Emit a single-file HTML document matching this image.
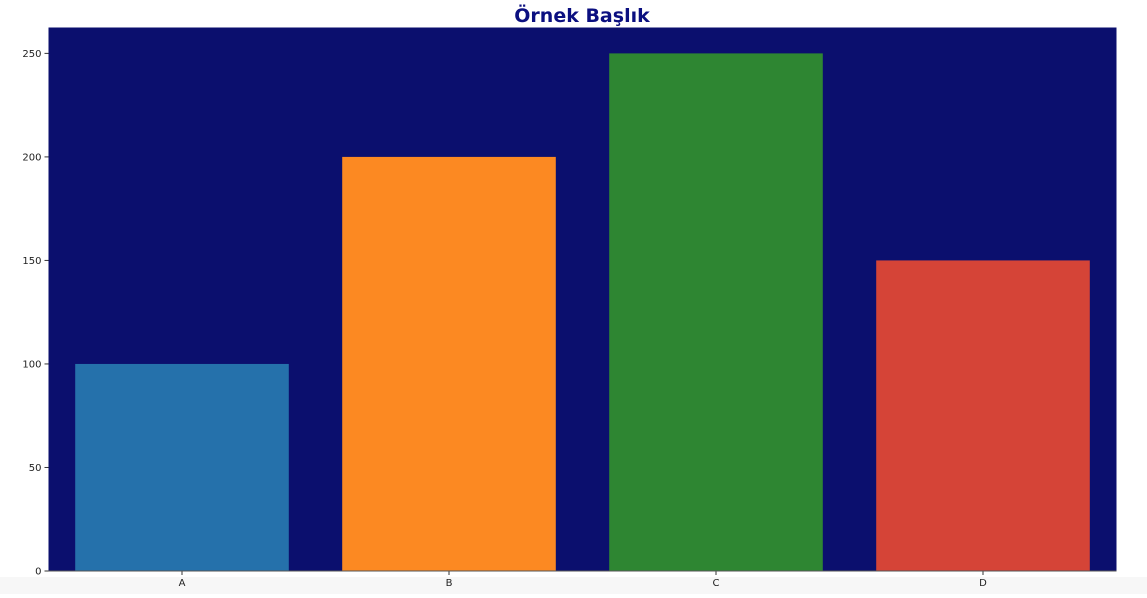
<!DOCTYPE html>
<html><head><meta charset="utf-8"><style>
body{margin:0;background:#fff;width:1147px;height:594px;overflow:hidden;font-family:"DejaVu Sans","Liberation Sans",sans-serif}
</style></head><body>
<svg width="1147" height="594" font-family="DejaVu Sans, Liberation Sans, sans-serif">
<rect x="0" y="577" width="1147" height="17" fill="#f7f7f7"/>
<text x="582" y="22" text-anchor="middle" font-size="19" font-weight="bold" fill="#0b0f80">Örnek Başlık</text>
<rect x="48.5" y="27.5" width="1068" height="543.5" fill="#0b0f6e"/>
<g id="bars"></g>
<g id="axes"></g>
</svg>
<script>
const categories=["A","B","C","D"];
const values=[100,200,250,150];
const colors=["#2571ab","#fc8922","#2e8632","#d54437"];
const yTicks=[0,50,100,150,200,250];
const L=48.5,R=1116.5,T=27.5,B=571,yMax=262.5;
const x=i=>L+(i+0.5)*(R-L)/categories.length;
const y=v=>B-v/yMax*(B-T);
const ns="http://www.w3.org/2000/svg";
const bars=document.getElementById('bars'),axes=document.getElementById('axes');
const bw=0.8*(R-L)/categories.length;
categories.forEach((c,i)=>{
 const r=document.createElementNS(ns,'rect');
 r.setAttribute('x',x(i)-bw/2);r.setAttribute('y',y(values[i]));
 r.setAttribute('width',bw);r.setAttribute('height',B-y(values[i]));
 r.setAttribute('fill',colors[i]);
 
 
 bars.appendChild(r);
 const t=document.createElementNS(ns,'line');
 t.setAttribute('x1',x(i));t.setAttribute('x2',x(i));t.setAttribute('y1',B);t.setAttribute('y2',B+4);
 t.setAttribute('stroke','#333');
 
 
 axes.appendChild(t);
 const l=document.createElementNS(ns,'text');
 l.setAttribute('x',x(i));l.setAttribute('y',B+15);l.setAttribute('text-anchor','middle');
 l.setAttribute('font-size','10');l.setAttribute('fill','#222');l.textContent=c;
 
 
 axes.appendChild(l);
});
yTicks.forEach(v=>{
 const t=document.createElementNS(ns,'line');
 t.setAttribute('x1',L-4);t.setAttribute('x2',L);t.setAttribute('y1',y(v));t.setAttribute('y2',y(v));
 t.setAttribute('stroke','#333');
 
 
 axes.appendChild(t);
 const l=document.createElementNS(ns,'text');
 l.setAttribute('x',L-7);l.setAttribute('y',y(v)+3.5);l.setAttribute('text-anchor','end');
 l.setAttribute('font-size','10');l.setAttribute('fill','#222');l.textContent=v;
 
 
 axes.appendChild(l);
});
const ax=document.createElementNS(ns,'line');
ax.setAttribute('x1',L);ax.setAttribute('x2',R);ax.setAttribute('y1',B);ax.setAttribute('y2',B);ax.setAttribute('stroke','#555');


axes.appendChild(ax);
</script>
</body></html>
